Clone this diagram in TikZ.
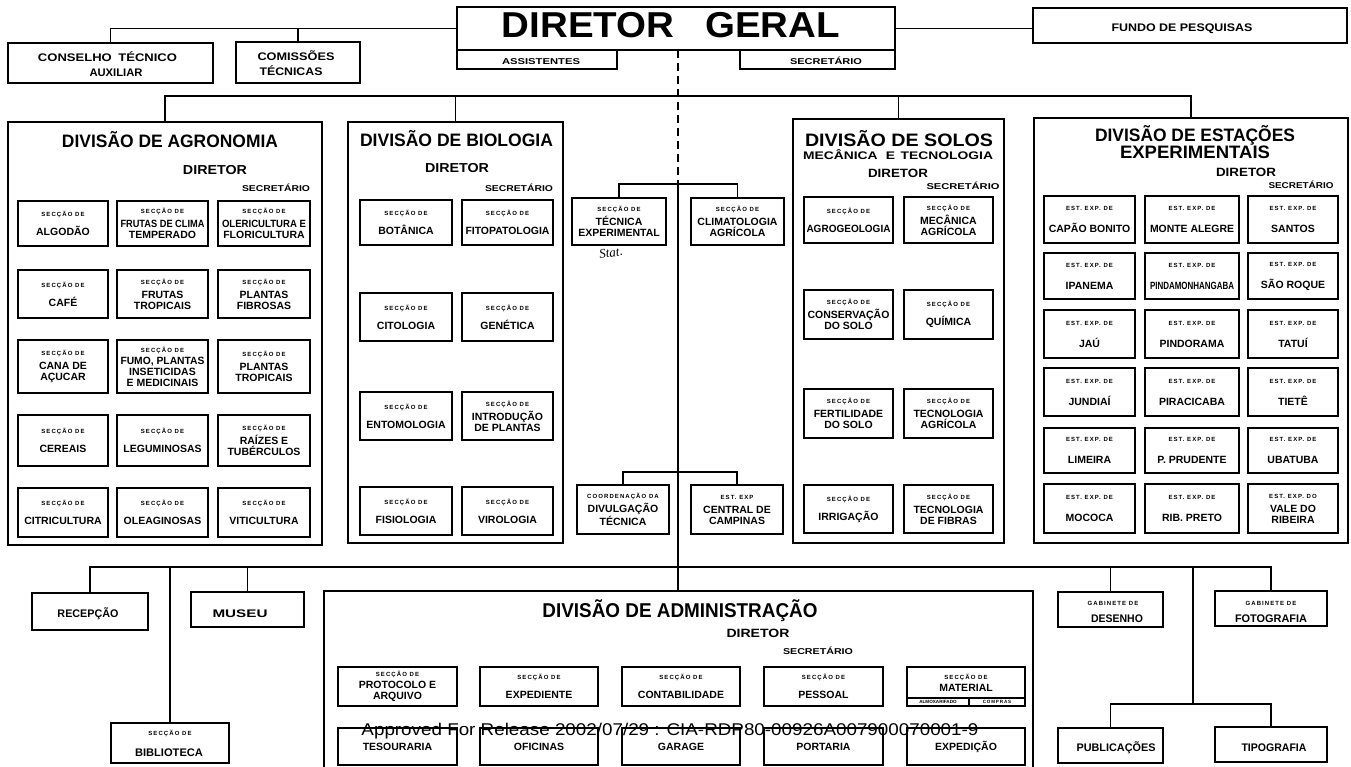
\documentclass[tikz,border=0pt]{standalone}
\usepackage{fontspec}
\usepackage{graphicx}
\setmainfont{Liberation Sans}
\newfontfamily\lsf[LetterSpace=18]{Liberation Sans}
\newfontfamily\hnd{Liberation Serif}
\usetikzlibrary{fit}
\newcommand\tw[2]{\resizebox{#1}{\height}{#2}}
\newsavebox\fitbx
\newcommand\F[1]{\sbox\fitbx{#1}\ifdim\wd\fitbx>84pt\resizebox{84pt}{\height}{\usebox\fitbx}\else\usebox\fitbx\fi}
\newcommand\sm{\lsf\bfseries\fontsize{6}{6.5}\selectfont}
\newcommand\sd{{\sm SECÇÃO DE}}
\newcommand\ee{{\sm EST. EXP. DE}}
\newcommand\SB[6]{\node[sbox, fit={(#2,#3) (#4,#5)}] (#1) {};\node[stx] (#1-t) at (#1.center) {#6};}
\tikzset{
  dbox/.style={draw, line width=2.4pt, inner sep=0pt, outer sep=0pt},
  tbox/.style={draw, line width=2.2pt, inner sep=0pt, outer sep=0pt},
  sbox/.style={draw, line width=1.4pt, inner sep=0pt, outer sep=0pt},
  thinbox/.style={draw, line width=1.1pt, inner sep=0pt, outer sep=0pt},
  stx/.style={align=center, inner sep=0pt, font={\fontsize{10.5}{11}\selectfont\bfseries}},
  lbl/.style={anchor=base, inner sep=0pt, outer sep=0pt},
  con/.style={line width=1.5pt},
}
\begin{document}
\begin{tikzpicture}[x=1pt,y=-1pt]
\fill[white] (0,0) rectangle (1351,767);
\useasboundingbox (0,0) rectangle (1351,767);

% ---------- top ----------
\node[tbox, fit={(457,7) (895,50)}] (dg) {};
\node[thinbox, fit={(457,50) (617,69)}] (assist) {};
\node[thinbox, fit={(740,50) (895,69)}] (secdg) {};
\node[lbl, font={\fontsize{36}{36}\selectfont\bfseries}] (dg-t) at (671,38) {\tw{338pt}{DIRETOR\hspace{0.8em}GERAL}};
\node[lbl, font={\fontsize{8.5}{9}\selectfont\bfseries}] (assist-t) at (541,65) {\tw{78pt}{ASSISTENTES}};
\node[lbl, font={\fontsize{8.5}{9}\selectfont\bfseries}] (secdg-t) at (826,65) {\tw{72pt}{SECRETÁRIO}};

\node[tbox, fit={(8,43) (213,83)}] (cons) {};
\node[lbl, font={\fontsize{11}{11}\selectfont\bfseries}] (cons-t1) at (107.5,62) {\tw{139pt}{CONSELHO\hspace{0.5em}TÉCNICO}};
\node[lbl, font={\fontsize{11}{11}\selectfont\bfseries}] (cons-t2) at (116,77) {\tw{53pt}{AUXILIAR}};
\node[tbox, fit={(236,42) (360,83)}] (com) {};
\node[lbl, font={\fontsize{11}{11}\selectfont\bfseries}] (com-t1) at (296,61) {\tw{77pt}{COMISSÕES}};
\node[lbl, font={\fontsize{11}{11}\selectfont\bfseries}] (com-t2) at (291,76) {\tw{63pt}{TÉCNICAS}};
\node[tbox, fit={(1033,8) (1347,43)}] (fundo) {};
\node[lbl, font={\fontsize{11}{11}\selectfont\bfseries}] (fundo-t) at (1182,32) {\tw{141pt}{FUNDO DE PESQUISAS}};

\draw[con] (cons.north) |- (dg.west);
\draw[con] (com.north) -- (com.north |- dg.west);
\draw[con] (dg.east) -- (dg.east -| fundo.west);

% ---------- divisions ----------
\node[dbox, fit={(8,122) (322,545)}] (agro) {};
\node[dbox, fit={(348,122) (563,543)}] (bio) {};
\node[dbox, fit={(793,119) (1004,543)}] (solos) {};
\node[dbox, fit={(1034,118) (1348,543)}] (estac) {};
\node[dbox, fit={(324,591) (1033,790)}] (admin) {};

\coordinate (h2) at (0,96);
\draw[con] (agro.north) |- (h2 -| estac.north) -- (estac.north);
\draw[con] (bio.north) -- (bio.north |- h2);
\draw[con] (solos.north) -- (solos.north |- h2);

% titles
\node[lbl, font={\fontsize{18}{18}\selectfont\bfseries}] (agro-t) at (170,148) {\tw{216pt}{DIVISÃO DE AGRONOMIA}};
\node[lbl, font={\fontsize{13}{13}\selectfont\bfseries}] (agro-d) at (215,175) {\tw{64pt}{DIRETOR}};
\node[lbl, font={\fontsize{8.5}{9}\selectfont\bfseries}] (agro-s) at (276,192) {\tw{68pt}{SECRETÁRIO}};

\node[lbl, font={\fontsize{18}{18}\selectfont\bfseries}] (bio-t) at (456.5,147) {\tw{193pt}{DIVISÃO DE BIOLOGIA}};
\node[lbl, font={\fontsize{13}{13}\selectfont\bfseries}] (bio-d) at (457,173) {\tw{64pt}{DIRETOR}};
\node[lbl, font={\fontsize{8.5}{9}\selectfont\bfseries}] (bio-s) at (519,192) {\tw{68pt}{SECRETÁRIO}};

\node[lbl, font={\fontsize{18}{18}\selectfont\bfseries}] (solos-t) at (899,147) {\tw{188pt}{DIVISÃO DE SOLOS}};
\node[lbl, font={\fontsize{11}{11}\selectfont\bfseries}] (solos-t2) at (898,160) {\tw{190pt}{MECÂNICA\hspace{0.6em}E\hspace{0.4em}TECNOLOGIA}};
\node[lbl, font={\fontsize{12}{12}\selectfont\bfseries}] (solos-d) at (898,178) {\tw{60pt}{DIRETOR}};
\node[lbl, font={\fontsize{8.5}{9}\selectfont\bfseries}] (solos-s) at (963,190) {\tw{73pt}{SECRETÁRIO}};

\node[lbl, font={\fontsize{18}{18}\selectfont\bfseries}] (estac-t) at (1195,142) {\tw{200pt}{DIVISÃO DE ESTAÇÕES}};
\node[lbl, font={\fontsize{18}{18}\selectfont\bfseries}] (estac-t2) at (1195,159) {\tw{150pt}{EXPERIMENTAIS}};
\node[lbl, font={\fontsize{12}{12}\selectfont\bfseries}] (estac-d) at (1246,177) {\tw{60pt}{DIRETOR}};
\node[lbl, font={\fontsize{8.5}{9}\selectfont\bfseries}] (estac-s) at (1301,189) {\tw{65pt}{SECRETÁRIO}};

\node[lbl, font={\fontsize{20}{20}\selectfont\bfseries}] (admin-t) at (680,617) {\tw{275pt}{DIVISÃO DE ADMINISTRAÇÃO}};
\node[lbl, font={\fontsize{12}{12}\selectfont\bfseries}] (admin-d) at (758,637) {\tw{63pt}{DIRETOR}};
\node[lbl, font={\fontsize{8.5}{9}\selectfont\bfseries}] (admin-s) at (818,654) {\tw{70pt}{SECRETÁRIO}};

% ---------- Agronomia ----------
\SB{a11}{18}{201}{108}{246}{\sd\\[8pt]ALGODÃO}
\SB{a12}{117}{201}{208}{246}{\sd\\[3pt]\F{FRUTAS DE CLIMA}\\TEMPERADO}
\SB{a13}{218}{201}{310}{246}{\sd\\[3pt]\F{OLERICULTURA E}\\\F{FLORICULTURA}}
\SB{a21}{18}{270}{108}{318}{\sd\\[8pt]CAFÉ}
\SB{a22}{117}{270}{208}{318}{\sd\\[3pt]FRUTAS\\TROPICAIS}
\SB{a23}{218}{270}{310}{318}{\sd\\[3pt]PLANTAS\\FIBROSAS}
\SB{a31}{18}{340}{108}{393}{\sd\\[3pt]CANA DE\\AÇUCAR}
\SB{a32}{117}{340}{208}{393}{\sd\\[1pt]\F{FUMO, PLANTAS}\\\F{INSETICIDAS}\\\F{E MEDICINAIS}}
\SB{a33}{218}{340}{310}{393}{\sd\\[3pt]PLANTAS\\TROPICAIS}
\SB{a41}{18}{415}{108}{466}{\sd\\[8pt]CEREAIS}
\SB{a42}{117}{415}{208}{466}{\sd\\[8pt]\F{LEGUMINOSAS}}
\SB{a43}{218}{415}{310}{466}{\sd\\[3pt]RAÍZES E\\\F{TUBÉRCULOS}}
\SB{a51}{18}{488}{108}{537}{\sd\\[8pt]\F{CITRICULTURA}}
\SB{a52}{117}{488}{208}{537}{\sd\\[8pt]\F{OLEAGINOSAS}}
\SB{a53}{218}{488}{310}{537}{\sd\\[8pt]\F{VITICULTURA}}

% ---------- Biologia ----------
\SB{b11}{360}{200}{452}{245}{\sd\\[8pt]BOTÂNICA}
\SB{b12}{462}{200}{553}{245}{\sd\\[8pt]\F{FITOPATOLOGIA}}
\SB{b21}{360}{293}{452}{341}{\sd\\[8pt]CITOLOGIA}
\SB{b22}{462}{293}{553}{341}{\sd\\[8pt]GENÉTICA}
\SB{b31}{360}{392}{452}{440}{\sd\\[8pt]\F{ENTOMOLOGIA}}
\SB{b32}{462}{392}{553}{440}{\sd\\[3pt]\F{INTRODUÇÃO}\\DE PLANTAS}
\SB{b41}{360}{487}{452}{535}{\sd\\[8pt]FISIOLOGIA}
\SB{b42}{462}{487}{553}{535}{\sd\\[8pt]VIROLOGIA}

% ---------- middle ----------
\SB{tec}{572}{198}{666}{245}{\sd\\[3pt]TÉCNICA\\\F{EXPERIMENTAL}}
\SB{clim}{691}{198}{784}{245}{\sd\\[3pt]\F{CLIMATOLOGIA}\\AGRÍCOLA}
\SB{coord}{577}{485}{669}{534}{{\sm COORDENAÇÃO DA}\\[3pt]\F{DIVULGAÇÃO}\\TÉCNICA}
\SB{camp}{691}{485}{783}{534}{{\sm EST. EXP}\\[3pt]CENTRAL DE\\CAMPINAS}
\node[font={\hnd\itshape\fontsize{13}{13}\selectfont}, rotate=8, inner sep=0pt] (stat) at (611,253) {Stat.};

\coordinate (tA) at (678,184);
\coordinate (tB) at (678,472);
\coordinate (tC) at (678,567);
\draw[con, dash pattern=on 8pt off 5pt] (tA |- dg.south) -- (tA);
\draw[con] (tA) -- (tA |- admin.north);
\draw[con] (tec.north) |- (tA) -| (clim.north);
\draw[con] (coord.north) |- (tB) -| (camp.north);

% ---------- Solos ----------
\SB{s11}{804}{197}{893}{243}{\sd\\[8pt]\F{AGROGEOLOGIA}}
\SB{s12}{904}{197}{993}{243}{\sd\\[3pt]MECÂNICA\\AGRÍCOLA}
\SB{s21}{804}{290}{893}{339}{\sd\\[3pt]\F{CONSERVAÇÃO}\\DO SOLO}
\SB{s22}{904}{290}{993}{339}{\sd\\[8pt]QUÍMICA}
\SB{s31}{804}{389}{893}{438}{\sd\\[3pt]\F{FERTILIDADE}\\DO SOLO}
\SB{s32}{904}{389}{993}{438}{\sd\\[3pt]\F{TECNOLOGIA}\\AGRÍCOLA}
\SB{s41}{804}{485}{893}{533}{\sd\\[8pt]IRRIGAÇÃO}
\SB{s42}{904}{485}{993}{533}{\sd\\[3pt]\F{TECNOLOGIA}\\DE FIBRAS}

% ---------- Estacoes ----------
\SB{e11}{1044}{196}{1135}{243}{\ee\\[11pt]\F{CAPÃO BONITO}}
\SB{e12}{1145}{196}{1239}{243}{\ee\\[11pt]\F{MONTE ALEGRE}}
\SB{e13}{1248}{196}{1338}{243}{\ee\\[11pt]SANTOS}
\SB{e21}{1044}{253}{1135}{299}{\ee\\[11pt]IPANEMA}
\SB{e22}{1145}{253}{1239}{299}{\ee\\[11pt]\F{PINDAMONHANGABA}}
\SB{e23}{1248}{253}{1338}{299}{\ee\\[11pt]SÃO ROQUE}
\SB{e31}{1044}{310}{1135}{358}{\ee\\[11pt]JAÚ}
\SB{e32}{1145}{310}{1239}{358}{\ee\\[11pt]PINDORAMA}
\SB{e33}{1248}{310}{1338}{358}{\ee\\[11pt]TATUÍ}
\SB{e41}{1044}{368}{1135}{416}{\ee\\[11pt]JUNDIAÍ}
\SB{e42}{1145}{368}{1239}{416}{\ee\\[11pt]PIRACICABA}
\SB{e43}{1248}{368}{1338}{416}{\ee\\[11pt]TIETÊ}
\SB{e51}{1044}{428}{1135}{473}{\ee\\[11pt]LIMEIRA}
\SB{e52}{1145}{428}{1239}{473}{\ee\\[11pt]P. PRUDENTE}
\SB{e53}{1248}{428}{1338}{473}{\ee\\[11pt]UBATUBA}
\SB{e61}{1044}{484}{1135}{533}{\ee\\[11pt]MOCOCA}
\SB{e62}{1145}{484}{1239}{533}{\ee\\[11pt]RIB. PRETO}
\SB{e63}{1248}{484}{1338}{533}{{\sm EST. EXP. DO}\\[3pt]VALE DO\\RIBEIRA}

% ---------- Administracao ----------
\SB{p1}{338}{667}{457}{706}{\sd\\[1pt]PROTOCOLO E\\ARQUIVO}
\SB{p2}{480}{667}{598}{706}{\sd\\[8pt]EXPEDIENTE}
\SB{p3}{622}{667}{740}{706}{\sd\\[8pt]CONTABILIDADE}
\SB{p4}{764}{667}{883}{706}{\sd\\[8pt]PESSOAL}
\node[sbox, fit={(907,667) (1025,706)}] (mat) {};
\node[thinbox, fit={(907,698) (969,706)}] (almox) {};
\node[thinbox, fit={(969,698) (1025,706)}] (compras) {};
\node[stx] (mat-t) at (966,683) {\sd\\[1pt]MATERIAL};
\node[inner sep=0pt, font={\fontsize{4.6}{4.8}\selectfont\bfseries}] (almox-t) at (almox) {ALMOXARIFADO};
\node[inner sep=0pt, font={\lsf\fontsize{4.6}{4.8}\selectfont\bfseries}] (compras-t) at (compras) {COMPRAS};
\SB{q1}{338}{728}{457}{765}{TESOURARIA}
\SB{q2}{480}{728}{598}{765}{OFICINAS}
\SB{q3}{622}{728}{740}{765}{GARAGE}
\SB{q4}{764}{728}{883}{765}{PORTARIA}
\SB{q5}{907}{728}{1025}{765}{EXPEDIÇÃO}

% ---------- bottom services ----------
\node[sbox, fit={(32,593) (148,630)}] (rec) {};
\node[lbl, font={\fontsize{11}{11}\selectfont\bfseries}] (rec-t) at (88,617) {\tw{61pt}{RECEPÇÃO}};
\node[sbox, fit={(191,592) (304,627)}] (museu) {};
\node[lbl, font={\fontsize{11}{11}\selectfont\bfseries}] (museu-t) at (240,617) {\tw{55pt}{MUSEU}};
\node[sbox, fit={(111,723) (229,763)}] (biblio) {};
\node[lbl] (biblio-s) at (170,735) {\sd};
\node[lbl, font={\fontsize{11}{11}\selectfont\bfseries}] (biblio-t) at (169,756) {\tw{68pt}{BIBLIOTECA}};
\node[sbox, fit={(1058,592) (1163,627)}] (desenho) {};
\node[lbl] (desenho-s) at (1113,605) {{\sm GABINETE DE}};
\node[lbl, font={\fontsize{11}{11}\selectfont\bfseries}] (desenho-t) at (1117,622) {\tw{52pt}{DESENHO}};
\node[sbox, fit={(1215,591) (1327,626)}] (foto) {};
\node[lbl] (foto-s) at (1271,605) {{\sm GABINETE DE}};
\node[lbl, font={\fontsize{11}{11}\selectfont\bfseries}] (foto-t) at (1271,622) {\tw{72pt}{FOTOGRAFIA}};
\node[sbox, fit={(1058,728) (1163,763)}] (pub) {};
\node[lbl, font={\fontsize{11}{11}\selectfont\bfseries}] (pub-t) at (1116,751) {\tw{79pt}{PUBLICAÇÕES}};
\node[sbox, fit={(1215,727) (1327,762)}] (tipo) {};
\node[lbl, font={\fontsize{11}{11}\selectfont\bfseries}] (tipo-t) at (1274,751) {\tw{65pt}{TIPOGRAFIA}};

\coordinate (tD) at (1193,567);
\coordinate (tE) at (1193,704);
\draw[con] (rec.north) |- (tC) -| (foto.north);
\draw[con] (museu.north) -- (museu.north |- tC);
\draw[con] (biblio.north) -- (biblio.north |- tC);
\draw[con] (desenho.north) -- (desenho.north |- tC);
\draw[con] (tD) -- (tE);
\draw[con] (pub.north) |- (tE) -| (tipo.north);

% ---------- release stamp ----------
\node[lbl, font={\fontsize{17}{17}\selectfont}] (stamp) at (670,735) {\tw{617pt}{Approved For Release 2002/07/29 : CIA-RDP80-00926A007900070001-9}};
\end{tikzpicture}
\end{document}
